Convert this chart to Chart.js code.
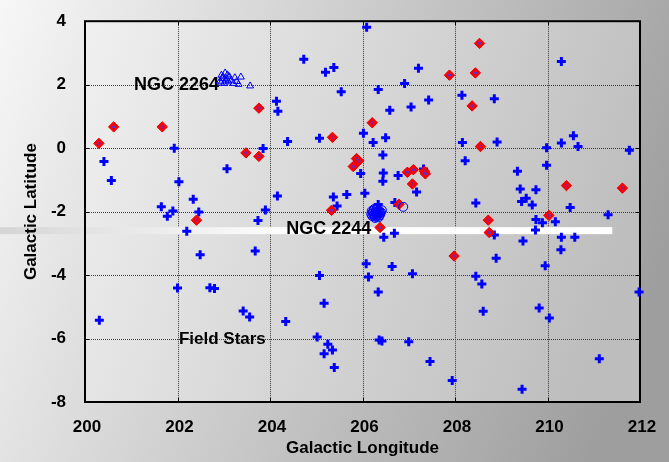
<!DOCTYPE html>
<html>
<head>
<meta charset="utf-8">
<script src="https://cdn.jsdelivr.net/npm/chart.js@4.4.1/dist/chart.umd.min.js"></script>
<style>
    html, body { margin: 0; padding: 0; background: #e0e0e0; }
</style>
</head>
<body>
<canvas id="mapaChart" width="669" height="462"></canvas>
<script>
// Field stars (blue crosses)
const fieldLon = [
    206.09, 204.73, 205.20, 205.38, 205.54, 206.34, 204.14, 204.17, 204.38, 205.07,
    206.02, 206.23, 201.93, 203.85, 200.41, 200.57, 202.03, 203.07, 205.96, 206.05,
    205.66, 205.37, 205.45, 204.16, 202.34, 201.65, 201.90, 201.78, 202.46, 203.90,
    203.74, 202.20, 210.30, 207.21, 206.91, 207.43, 207.05, 206.59, 208.15, 208.85,
    206.50, 206.44, 208.16, 208.91, 208.22, 209.98, 210.30, 210.56, 210.66, 211.77,
    209.98, 209.35, 206.45, 206.44, 206.77, 207.32, 207.17, 209.41, 209.75, 209.54,
    209.44, 209.67, 210.49, 211.31, 208.45, 209.75, 209.89, 210.17, 209.74, 206.69,
    206.46, 208.85, 209.47, 210.30, 210.59, 206.70, 206.34, 202.49, 203.68, 202.00,
    202.70, 202.80, 200.31, 203.42, 203.56, 204.34, 205.07, 205.17, 205.02, 205.25,
    205.35, 205.17, 205.39, 206.08, 206.13, 206.34, 206.36, 210.29, 208.89, 209.95,
    206.64, 207.08, 208.45, 208.58, 208.61, 209.82, 210.04, 211.98, 206.42, 207.00,
    207.46, 207.94, 209.45, 211.12
];
const fieldLat = [
    3.81, 2.80, 2.39, 2.54, 1.78, 1.85, 1.48, 1.16, 0.21, 0.31,
    0.47, 0.18, 0.00, -0.01, -0.42, -1.02, -1.06, -0.65, -0.80, -1.42,
    -1.46, -1.54, -1.82, -1.51, -1.61, -1.85, -1.98, -2.15, -2.01, -1.95,
    -2.28, -2.62, 2.73, 2.52, 2.04, 1.52, 1.30, 1.19, 1.67, 1.56,
    0.33, -0.22, 0.18, 0.19, -0.40, 0.01, 0.16, 0.39, 0.05, -0.07,
    -0.54, -0.73, -0.78, -1.04, -0.86, -0.66, -1.38, -1.29, -1.31, -1.58,
    -1.68, -1.79, -1.87, -2.10, -1.73, -2.25, -2.35, -2.32, -2.58, -2.68,
    -2.81, -2.74, -2.93, -2.81, -2.81, -1.71, -1.78, -3.36, -3.24, -4.41,
    -4.40, -4.42, -5.42, -5.13, -5.32, -5.46, -4.01, -4.89, -5.95, -6.18,
    -6.36, -6.48, -6.91, -3.64, -4.06, -4.53, -6.05, -3.20, -3.47, -3.71,
    -3.73, -3.96, -4.04, -4.28, -5.14, -5.04, -5.35, -4.53, -6.08, -6.10,
    -6.72, -7.32, -7.60, -6.64
];

// Red diamonds
const redLon = [
    200.30, 200.62, 201.67, 203.76, 203.48, 203.76, 205.35, 206.21, 205.87, 205.92,
    205.80, 202.41, 205.33, 206.38, 208.53, 207.88, 208.44, 208.37, 208.55, 206.97,
    207.10, 207.34, 207.36, 207.08, 210.41, 211.62, 206.79, 210.03, 208.72, 208.74,
    207.98
];
const redLat = [
    0.15, 0.67, 0.67, 1.26, -0.15, -0.26, 0.34, 0.80, -0.33, -0.40,
    -0.58, -2.27, -1.96, -2.50, 3.30, 2.30, 2.37, 1.33, 0.05, -0.76,
    -0.68, -0.73, -0.81, -1.13, -1.18, -1.26, -1.77, -2.12, -2.27, -2.66,
    -3.40
];

// NGC 2264 (triangles)
const ngc2264Lon = [203.03, 202.98, 202.92, 203.10, 203.12, 203.24, 203.37, 203.21, 203.32, 203.57, 203.01, 203.06, 202.95, 203.16, 202.97, 203.04, 203.08, 202.94, 203.28];
const ngc2264Lat = [2.37, 2.25, 2.11, 2.09, 2.25, 2.22, 2.24, 2.04, 2.01, 1.96, 2.04, 2.18, 2.30, 2.14, 2.19, 2.12, 2.31, 2.05, 2.10];

// NGC 2244 (circles)
const ngc2244Lon = [
    206.20, 206.25, 206.30, 206.35, 206.40, 206.22, 206.28, 206.33, 206.38, 206.24,
    206.30, 206.35, 206.27, 206.19, 206.42, 206.31, 206.26, 206.36, 206.29, 206.23,
    206.33, 206.38, 206.21, 206.27, 206.32, 206.25, 206.37, 206.30, 206.88
];
const ngc2244Lat = [
    -1.98, -1.92, -1.95, -1.97, -2.02, -2.05, -2.03, -2.06, -2.10, -2.12,
    -2.15, -2.18, -2.20, -2.08, -1.96, -1.90, -2.08, -2.13, -2.00, -1.99,
    -2.01, -2.05, -2.14, -2.16, -2.11, -1.95, -2.00, -2.07, -1.85
];

const xTicks = [200, 202, 204, 206, 208, 210, 212];
const yTicks = [-8, -6, -4, -2, 0, 2, 4];

// text labels on the plot
const labelTexts = ["NGC 2264", "NGC 2244", "Field Stars"];
const labelLon = [202.90, 206.19, 202.97];
const labelLat = [2.00, -2.54, -6.03];
const labelAlign = ["right", "right", "center"];

// white band
const bandLat = [-2.49, -2.71];
const bandEndLon = 211.4;

const fuente = 'Arial, "Liberation Sans", sans-serif';

function pares(xs, ys) {
    return xs.map((v, i) => ({ x: v, y: ys[i] }));
}

// banda con degradado; desde: borde izquierdo en pixeles
function pintarBanda(chart, desde) {
    const { ctx } = chart;
    const x = chart.scales.x;
    const y = chart.scales.y;
    const top = y.getPixelForValue(bandLat[0]);
    const bottom = y.getPixelForValue(bandLat[1]);
    const end = x.getPixelForValue(bandEndLon);
    const hasta = desde === 0 ? chart.chartArea.left : end;
    const g = ctx.createLinearGradient(0, 0, end, 0);
    g.addColorStop(0, "#d4d4d4");
    g.addColorStop(0.16, "#e4e4e4");
    g.addColorStop(0.45, "#fcfcfc");
    g.addColorStop(1, "#ffffff");
    ctx.fillStyle = g;
    ctx.fillRect(desde, top, hasta - desde, bottom - top);
}

const fondo = {
    id: "fondo",
    beforeDraw(chart) {
        const { ctx, width, height, chartArea: a } = chart;
        ctx.save();
        let g = ctx.createLinearGradient(0, 0, width, 250);
        g.addColorStop(0, "#f7f7f7");
        g.addColorStop(1, "#9e9e9e");
        ctx.fillStyle = g;
        ctx.fillRect(0, 0, width, height);

        g = ctx.createLinearGradient(a.left, a.top, a.right, a.top + 200);
        g.addColorStop(0, "#f0f0f0");
        g.addColorStop(1, "#bdbdbd");
        ctx.fillStyle = g;
        ctx.fillRect(a.left, a.top, a.right - a.left, a.bottom - a.top);

        // tramo de la banda fuera del grafico (queda detras del titulo)
        pintarBanda(chart, 0);
        ctx.restore();
    },
    beforeDatasetsDraw(chart) {
        const { ctx, chartArea: a } = chart;
        const x = chart.scales.x;
        const y = chart.scales.y;
        ctx.save();

        // rejilla punteada
        ctx.strokeStyle = "#3a3a3a";
        ctx.lineWidth = 1;
        ctx.setLineDash([1, 1]);
        ctx.beginPath();
        xTicks.forEach(v => {
            const p = Math.round(x.getPixelForValue(v)) + 0.5;
            ctx.moveTo(p, a.top); ctx.lineTo(p, a.bottom);
        });
        yTicks.forEach(v => {
            const p = Math.round(y.getPixelForValue(v)) + 0.5;
            ctx.moveTo(a.left, p); ctx.lineTo(a.right, p);
        });
        ctx.stroke();
        ctx.setLineDash([]);

        // banda dentro del grafico, tapa la rejilla
        pintarBanda(chart, a.left);

        // etiquetas
        ctx.fillStyle = "#000";
        ctx.textBaseline = "middle";
        labelTexts.forEach((t, i) => {
            ctx.font = (i === 2 ? "bold 17px " : "bold 18px ") + fuente;
            ctx.textAlign = labelAlign[i];
            ctx.fillText(t, x.getPixelForValue(labelLon[i]), y.getPixelForValue(labelLat[i]));
        });

        // marco
        ctx.strokeStyle = "#000";
        ctx.lineWidth = 2;
        ctx.strokeRect(a.left, a.top, a.right - a.left, a.bottom - a.top);
        ctx.lineWidth = 1;
        ctx.beginPath();
        xTicks.forEach(v => {
            const p = Math.round(x.getPixelForValue(v)) + 0.5;
            ctx.moveTo(p, a.top); ctx.lineTo(p, a.top + 4);
            ctx.moveTo(p, a.bottom); ctx.lineTo(p, a.bottom - 4);
        });
        yTicks.forEach(v => {
            const p = Math.round(y.getPixelForValue(v)) + 0.5;
            ctx.moveTo(a.left, p); ctx.lineTo(a.left + 4, p);
            ctx.moveTo(a.right, p); ctx.lineTo(a.right - 4, p);
        });
        ctx.stroke();
        ctx.restore();
    }
};

new Chart(document.getElementById("mapaChart"), {
    type: "scatter",
    data: {
        datasets: [
            {
                label: "NGC 2244",
                data: pares(ngc2244Lon, ngc2244Lat),
                pointStyle: "circle",
                pointRadius: 4.5,
                borderColor: "#0000ff",
                backgroundColor: "rgba(0,0,0,0)",
                borderWidth: 1,
                clip: false
            },
            {
                label: "NGC 2264",
                data: pares(ngc2264Lon, ngc2264Lat),
                pointStyle: "triangle",
                pointRadius: 4,
                borderColor: "#0000ff",
                backgroundColor: "rgba(0,0,0,0)",
                borderWidth: 1,
                clip: false
            },
            {
                label: "centro",
                data: pares(redLon, redLat),
                pointStyle: "circle",
                pointRadius: 1.2,
                borderColor: "#3a3aff",
                backgroundColor: "rgba(0,0,0,0)",
                borderWidth: 1,
                clip: false
            },
            {
                label: "rojas",
                data: pares(redLon, redLat),
                pointStyle: "rectRot",
                pointRadius: 5.2,
                borderColor: "#e60000",
                backgroundColor: "#ff0000",
                borderWidth: 1,
                clip: false
            },
            {
                label: "Field Stars",
                data: pares(fieldLon, fieldLat),
                pointStyle: "cross",
                pointRadius: 4.5,
                borderColor: "#0000ff",
                borderWidth: 3,
                clip: false
            }
        ]
    },
    options: {
        responsive: false,
        animation: false,
        events: [],
        layout: { padding: { top: 12, right: 29, left: 0, bottom: 0 } },
        scales: {
            x: {
                type: "linear",
                min: 200,
                max: 212,
                afterBuildTicks: s => { s.ticks = xTicks.map(v => ({ value: v })); },
                afterFit: s => { s.height = 60; },
                ticks: {
                    color: "#000",
                    padding: 7,
                    labelOffset: 2,
                    font: { family: fuente, size: 17, weight: "bold" }
                },
                grid: { display: false },
                border: { display: false },
                title: {
                    display: true,
                    text: "Galactic Longitude",
                    color: "#000",
                    padding: { top: 0, bottom: 3 },
                    font: { family: fuente, size: 17, weight: "bold" }
                }
            },
            y: {
                type: "linear",
                min: -8,
                max: 4,
                afterBuildTicks: s => { s.ticks = yTicks.map(v => ({ value: v })); },
                afterFit: s => { s.width = 85; },
                ticks: {
                    color: "#000",
                    padding: 11,
                    font: { family: fuente, size: 17, weight: "bold" }
                },
                grid: { display: false },
                border: { display: false },
                title: {
                    display: true,
                    text: "Galactic Latitude",
                    color: "#000",
                    padding: { top: 21, bottom: 0 },
                    font: { family: fuente, size: 17, weight: "bold" }
                }
            }
        },
        plugins: {
            legend: { display: false },
            tooltip: { enabled: false }
        }
    },
    plugins: [fondo]
});
</script>
</body>
</html>
